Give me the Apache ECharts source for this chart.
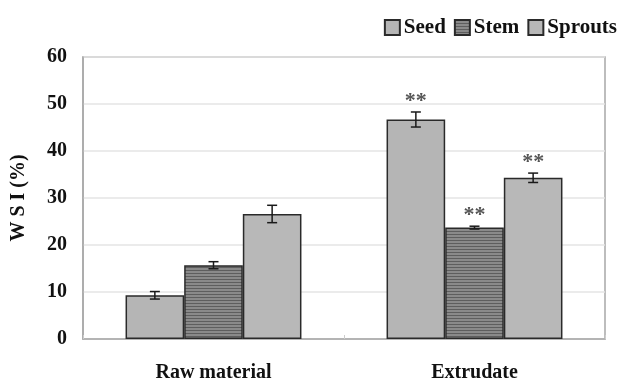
<!DOCTYPE html>
<html><head><meta charset="utf-8">
<script src="https://cdn.jsdelivr.net/npm/echarts@6/dist/echarts.min.js"></script>
<style>html,body{margin:0;padding:0;background:#fff}#c{width:617px;height:380px}</style>
</head><body><div id="c"></div>
<script>
const categories = ['Raw material', 'Extrudate'];
const seriesNames = ['Seed', 'Stem', 'Sprouts'];
const seedValues = [9.3, 46.7];
const stemValues = [15.7, 23.7];
const sproutsValues = [26.6, 34.3];
const seedErrors = [0.8, 1.6];
const stemErrors = [0.75, 0.3];
const sproutsErrors = [1.85, 1.0];
const seedMarks = ['', '**'];
const stemMarks = ['', '**'];
const sproutsMarks = ['', '**'];
const yTicks = [0, 10, 20, 30, 40, 50, 60];

const values = [seedValues, stemValues, sproutsValues];
const errors = [seedErrors, stemErrors, sproutsErrors];
const marks = [seedMarks, stemMarks, sproutsMarks];

function stripePattern() {
  const c = document.createElement('canvas');
  c.width = 4; c.height = 3;
  const g = c.getContext('2d');
  g.fillStyle = '#8a8a8a'; g.fillRect(0, 0, 4, 3);
  g.fillStyle = '#5e5e5e'; g.fillRect(0, 0, 4, 1);
  return c;
}
const fills = ['#b5b5b5', { image: stripePattern(), repeat: 'repeat' }, '#b8b8b8'];

const font = 'Liberation Serif';
const GAP = '32.6%';

const chart = echarts.init(document.getElementById('c'), null, { renderer: 'canvas' });
const barSeries = seriesNames.map((n, i) => ({
  name: n, type: 'bar', data: values[i],
  barGap: '0%', barCategoryGap: GAP,
  itemStyle: { color: fills[i], borderColor: '#2a2a2a', borderWidth: 1.5 },
  emphasis: { disabled: true }, z: 2
}));

const errData = [];
for (let s = 0; s < 3; s++) for (let c = 0; c < categories.length; c++)
  errData.push([c, values[s][c], errors[s][c], s, marks[s][c]]);

const errSeries = {
  type: 'custom', name: 'err', z: 5, data: errData,
  renderItem: function (params, api) {
    const c = api.value(0), v = api.value(1), e = api.value(2), s = api.value(3);
    const mark = errData[params.dataIndex][4];
    const band = api.size([1, 0])[0];
    const bw = band * (1 - parseFloat(GAP) / 100) / 3;
    const xc = api.coord([c, v])[0] + (s - 1) * bw;
    const yt = api.coord([c, v + e])[1];
    const yb = api.coord([c, v - e])[1];
    const cap = 5;
    const st = { stroke: '#1a1a1a', lineWidth: 1.5 };
    const children = [
      { type: 'line', shape: { x1: xc, y1: yt, x2: xc, y2: yb }, style: st },
      { type: 'line', shape: { x1: xc - cap, y1: yt, x2: xc + cap, y2: yt }, style: st },
      { type: 'line', shape: { x1: xc - cap, y1: yb, x2: xc + cap, y2: yb }, style: st }
    ];
    if (mark) children.push({
      type: 'text', x: xc, y: yt - 11,
      style: { text: mark, fill: '#555', font: 'bold 22px "' + font + '"', align: 'center', verticalAlign: 'middle' }
    });
    return { type: 'group', children: children };
  }
};

chart.setOption({
  animation: false,
  backgroundColor: '#fff',
  legend: {
    data: seriesNames, right: 0, top: 17, padding: 0, icon: 'rect', itemWidth: 15, itemHeight: 15, itemGap: 8,
    textStyle: { fontFamily: font, fontWeight: 'bold', fontSize: 21, color: '#111', padding: [0, 0, 0, -1] }
  },
  grid: { left: 83, right: 12, top: 57, bottom: 41, outerBoundsMode: 'none', containLabel: false, show: true, borderColor: '#a8a8a8', borderWidth: 1.5, backgroundColor: '#fff' },
  xAxis: {
    type: 'category', data: categories,
    axisLine: { lineStyle: { color: '#a8a8a8', width: 1.5 } },
    axisTick: { show: true, inside: true, length: 4, lineStyle: { color: '#ccc' } },
    axisLabel: { margin: 24, fontFamily: font, fontWeight: 'bold', fontSize: 20, color: '#111' }
  },
  yAxis: {
    type: 'value', min: yTicks[0], max: yTicks[yTicks.length - 1], interval: 10,
    name: 'W S I (%)', nameLocation: 'middle', nameGap: 54, nameRotate: 90,
    nameTextStyle: { fontFamily: font, fontWeight: 'bold', fontSize: 20, color: '#111' },
    axisLine: { show: true, lineStyle: { color: '#a8a8a8', width: 1.5 } },
    axisTick: { show: false },
    splitLine: { lineStyle: { color: '#e4e4e4', width: 1.5 } },
    axisLabel: { margin: 16, fontFamily: font, fontWeight: 'bold', fontSize: 20, color: '#111' }
  },
  series: barSeries.concat([errSeries])
});
</script></body></html>
